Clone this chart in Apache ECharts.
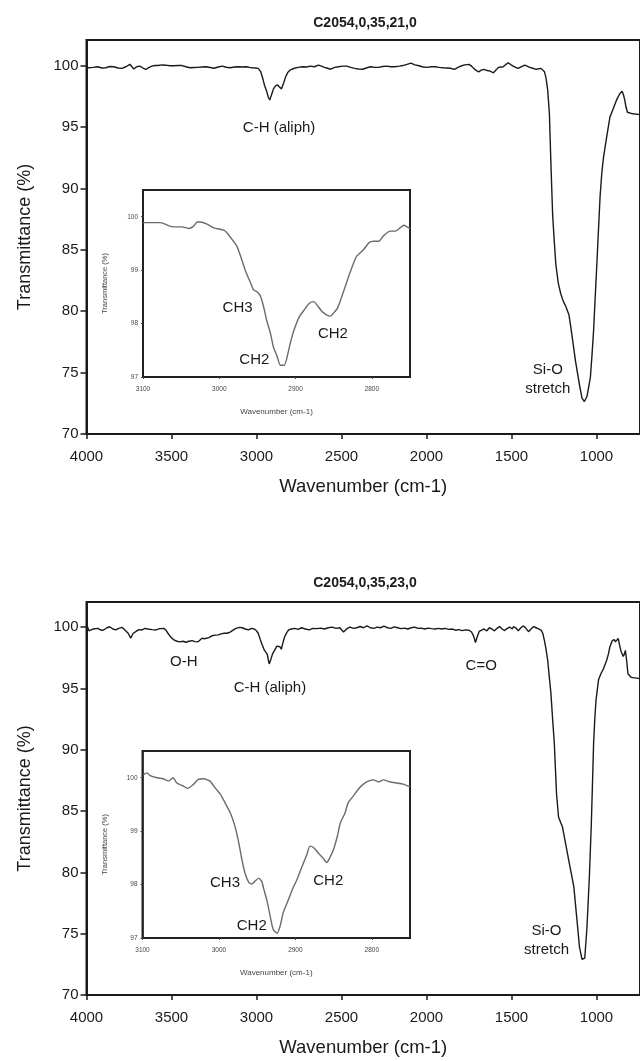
<!DOCTYPE html>
<html><head><meta charset="utf-8">
<script src="https://cdn.jsdelivr.net/npm/echarts@6/dist/echarts.min.js"></script>
<style>html,body{margin:0;padding:0;background:#fff}#c{width:640px;height:1061px}</style>
</head><body><div id="c"></div>
<script>
const titles = ['C2054,0,35,21,0', 'C2054,0,35,23,0'];
const xAxisTitle = 'Wavenumber (cm-1)';
const yAxisTitle = 'Transmittance (%)';
const xTicks = [4000, 3500, 3000, 2500, 2000, 1500, 1000];
const yTicks = [70, 75, 80, 85, 90, 95, 100];
const insetXTicks = [3100, 3000, 2900, 2800];
const insetYTicks = [97, 98, 99, 100];

// Spectrum 1 (main), [wavenumber, transmittance]
const spectrum1 = [
[4000,99.8],[3993,99.77],[3962,99.85],[3934,99.9],[3910,99.8],[3887,99.82],[3862,99.92],[3840,99.9],[3815,99.8],[3792,99.77],[3768,99.9],[3745,100.1],[3722,99.72],[3705,99.9],[3686,99.95],[3668,99.8],[3651,99.68],[3632,99.85],[3615,99.95],[3598,100.0],[3580,100.0],[3555,100.05],[3533,100.03],[3510,99.98],[3486,99.98],[3460,100.0],[3438,100.0],[3415,99.9],[3391,99.82],[3368,99.84],[3344,99.85],[3320,99.88],[3297,99.9],[3272,99.84],[3249,99.78],[3225,99.88],[3202,99.95],[3178,99.86],[3155,99.82],[3130,99.88],[3108,99.9],[3085,99.88],[3060,99.9],[3040,99.85],[3025,99.82],[3005,99.8],[2990,99.77],
[2975,99.5],[2962,98.9],[2953,98.4],[2940,97.9],[2930,97.4],[2922,97.2],[2912,97.6],[2900,98.1],[2888,98.35],[2876,98.42],[2865,98.25],[2853,98.1],[2840,98.6],[2828,99.1],[2815,99.45],[2800,99.65],[2777,99.78],
[2755,99.85],[2730,99.9],[2705,99.88],[2682,99.95],[2660,99.9],[2635,100.03],[2618,99.95],[2600,99.85],[2582,99.78],[2564,99.7],[2540,99.85],[2517,99.9],[2494,99.95],[2470,99.95],[2445,99.85],[2423,99.77],[2400,99.72],[2375,99.7],[2350,99.82],[2328,99.9],[2305,99.85],[2281,99.85],[2258,99.92],[2233,99.95],[2210,99.9],[2186,99.9],[2160,99.95],[2139,100.0],[2115,100.1],[2092,100.2],[2068,100.05],[2044,99.98],[2020,99.88],[1997,99.85],[1972,99.9],[1950,99.9],[1925,99.85],[1903,99.82],[1892,99.85],[1860,99.78],[1835,99.69],[1815,99.85],[1798,99.96],[1775,100.05],[1750,100.1],[1735,99.95],[1722,99.77],[1708,99.6],[1693,99.49],[1678,99.62],[1664,99.69],[1650,99.62],[1635,99.58],[1620,99.5],[1606,99.41],[1590,99.65],[1577,99.85],[1562,99.88],[1548,99.9],[1532,100.1],[1519,100.23],[1505,100.08],[1490,99.96],[1475,99.85],[1461,99.77],[1440,99.92],[1422,100.04],[1408,99.95],[1393,99.85],[1375,99.78],[1355,99.69],[1340,99.74],[1326,99.77],[1315,99.65],[1306,99.49],
[1297,99.0],[1287,98.0],[1277,96.1],[1268,92.0],[1258,87.9],[1248,85.6],[1239,83.8],[1225,82.3],[1210,81.4],[1195,80.8],[1181,80.4],[1162,79.7],[1152,78.8],[1142,77.8],[1123,75.9],[1100,74.0],[1085,72.9],[1071,72.65],[1056,73.05],[1036,74.6],[1027,76.3],[1017,78.4],[1008,81.0],[998,83.8],[988,86.7],[979,89.3],[969,91.2],[959,92.5],[940,94.2],[921,95.8],[901,96.5],[882,97.2],[863,97.7],[849,97.9],[841,97.6],[834,97.2],[826,96.6],[818,96.2],[795,96.1],[744,96.0]
];

// Inset 1 (C-H region)
const inset1 = [
[3100,99.89],[3077,99.89],[3064,99.82],[3055,99.81],[3049,99.81],[3040,99.78],[3034,99.82],[3029,99.9],[3025,99.9],[3016,99.86],[3007,99.79],[2994,99.75],[2990,99.7],[2983,99.57],[2977,99.45],[2972,99.26],[2966,99.0],[2959,98.76],[2955,98.63],[2950,98.59],[2946,98.51],[2942,98.32],[2938,98.07],[2933,97.82],[2929,97.56],[2924,97.38],[2920,97.22],[2915,97.22],[2911,97.38],[2907,97.63],[2902,97.88],[2895,98.13],[2889,98.25],[2882,98.38],[2876,98.41],[2872,98.35],[2865,98.22],[2859,98.16],[2854,98.14],[2850,98.2],[2845,98.29],[2841,98.44],[2835,98.69],[2828,98.98],[2820,99.26],[2811,99.38],[2804,99.51],[2798,99.54],[2791,99.54],[2785,99.64],[2776,99.73],[2769,99.73],[2763,99.79],[2758,99.84],[2754,99.81],[2750,99.78]
];

// Spectrum 2 (main)
const spectrum2 = [
[4000,100.25],[3992,99.95],[3985,99.7],[3960,99.85],[3934,99.9],[3915,99.75],[3899,99.77],[3880,99.95],[3864,100.03],[3845,99.85],[3828,99.77],[3810,99.9],[3792,99.98],[3780,99.85],[3769,99.77],[3755,99.5],[3740,99.1],[3725,99.5],[3710,99.64],[3692,99.8],[3674,99.77],[3655,99.9],[3639,99.85],[3615,99.8],[3592,99.77],[3568,99.88],[3545,99.9],[3532,99.75],[3521,99.5],[3505,99.2],[3486,98.96],[3468,98.85],[3450,98.8],[3432,98.85],[3415,98.77],[3398,98.85],[3379,98.9],[3362,98.82],[3344,98.8],[3332,98.95],[3320,99.1],[3308,99.05],[3297,98.96],[3280,99.15],[3261,99.3],[3244,99.35],[3226,99.37],[3208,99.45],[3190,99.5],[3172,99.5],[3155,99.6],[3138,99.75],[3120,99.9],[3100,99.98],[3084,99.95],[3066,99.85],[3048,99.77],[3030,99.9],[3013,99.85],[3000,99.7],[2990,99.5],
[2978,99.0],[2966,98.55],[2953,98.1],[2945,97.95],[2937,97.8],[2930,97.3],[2925,97.0],[2915,97.4],[2906,97.8],[2890,98.2],[2880,98.45],[2871,98.6],[2862,98.4],[2854,98.2],[2845,98.7],[2835,99.2],[2822,99.55],[2811,99.77],[2795,99.85],[2776,99.9],
[2755,99.82],[2735,99.95],[2712,99.85],[2690,99.78],[2668,99.9],[2645,99.88],[2622,99.92],[2600,99.85],[2578,99.95],[2555,100.0],[2533,99.9],[2510,99.95],[2488,99.6],[2470,99.85],[2450,100.0],[2430,99.9],[2410,99.95],[2390,100.05],[2370,99.95],[2350,100.1],[2330,99.95],[2310,99.9],[2290,100.0],[2270,99.95],[2250,100.08],[2230,99.95],[2210,99.9],[2190,100.02],[2170,99.95],[2150,99.88],[2130,99.92],[2110,99.85],[2090,99.95],[2070,100.0],[2050,99.9],[2030,99.92],[2010,99.85],[1990,99.92],[1970,99.88],[1950,99.85],[1930,99.9],[1910,99.85],[1890,99.9],[1870,99.82],[1850,99.85],[1830,99.75],[1810,99.8],[1790,99.72],[1770,99.78],[1750,99.75],[1735,99.6],[1722,99.25],[1712,98.75],[1702,99.2],[1690,99.65],[1675,99.75],[1662,99.85],[1645,99.7],[1630,99.95],[1615,99.85],[1600,99.7],[1585,99.9],[1570,100.05],[1555,99.85],[1540,99.72],[1525,99.9],[1510,100.0],[1495,99.85],[1488,100.05],[1475,99.95],[1460,99.7],[1445,99.95],[1430,100.1],[1415,99.9],[1400,99.63],[1385,99.85],[1370,100.05],[1355,99.95],[1340,99.85],[1326,99.75],
[1316,99.5],[1306,98.9],[1297,98.2],[1287,97.3],[1278,96.0],[1268,94.6],[1258,92.5],[1248,90.5],[1241,88.3],[1235,86.4],[1223,84.5],[1200,83.7],[1181,82.3],[1162,80.9],[1148,79.9],[1133,78.8],[1114,76.0],[1100,73.9],[1085,72.9],[1069,73.0],[1056,75.5],[1042,79.6],[1031,83.7],[1024,87.0],[1017,90.5],[1010,92.5],[1003,94.0],[988,95.7],[974,96.2],[959,96.6],[940,97.3],[930,97.8],[921,98.4],[907,98.9],[895,98.99],[889,98.8],[882,98.7],[872,99.07],[865,98.6],[857,98.1],[843,97.6],[836,97.8],[830,98.1],[822,97.2],[815,96.2],[795,95.9],[744,95.8]
];

// Inset 2 (C-H region)
const inset2 = [
[3099,100.06],[3094,100.09],[3090,100.04],[3081,100.0],[3073,99.98],[3066,99.94],[3060,100.0],[3055,99.9],[3046,99.84],[3041,99.8],[3033,99.88],[3027,99.97],[3020,99.98],[3012,99.94],[3005,99.81],[2998,99.69],[2992,99.53],[2985,99.34],[2979,99.09],[2974,98.78],[2970,98.47],[2966,98.22],[2961,98.04],[2957,98.01],[2953,98.06],[2948,98.12],[2944,98.06],[2941,97.9],[2937,97.69],[2933,97.41],[2929,97.16],[2924,97.09],[2920,97.22],[2916,97.47],[2909,97.72],[2903,97.94],[2898,98.09],[2892,98.31],[2885,98.56],[2881,98.72],[2876,98.69],[2870,98.59],[2864,98.5],[2859,98.41],[2855,98.5],[2850,98.66],[2845,98.91],[2841,99.16],[2835,99.34],[2831,99.53],[2824,99.66],[2818,99.78],[2811,99.88],[2804,99.94],[2798,99.96],[2791,99.92],[2785,99.96],[2776,99.92],[2767,99.9],[2759,99.88],[2750,99.83]
];

// Annotations [text, wavenumber, transmittance]
const notes1 = [['C-H (aliph)', 2867, 94.94], ['Si-O\nstretch', 1286, 74.44]];
const insetNotes1 = [['CH3', 2976, 98.29], ['CH2', 2954, 97.32], ['CH2', 2851, 97.80]];
const notes2 = [['O-H', 3428, 97.19], ['C-H (aliph)', 2921, 95.02], ['C=O', 1678, 96.84], ['Si-O\nstretch', 1294, 74.44]];
const insetNotes2 = [['CH3', 2992, 98.03], ['CH2', 2957, 97.22], ['CH2', 2857, 98.07]];

const FONT = 'Liberation Sans, Arial, sans-serif';
const INK = '#1a1a1a';
const plain = v => String(v);

function notesToMark(notes, size) {
  return {
    symbol: 'circle', symbolSize: 0, silent: true, animation: false,
    label: { show: true, position: 'inside', formatter: '{b}', fontSize: size, color: INK, fontFamily: FONT, lineHeight: 19, align: 'center' },
    data: notes.map(n => ({ name: n[0], coord: [n[1], n[2]] }))
  };
}

function mainX(gi) {
  return {
    type: 'value', gridIndex: gi, inverse: true, min: 744, max: 4000,
    axisLine: { show: true, onZero: false, lineStyle: { color: INK, width: 2 } },
    axisTick: { show: true, length: 5, customValues: xTicks, lineStyle: { color: INK, width: 1.5 } },
    axisLabel: { customValues: xTicks, formatter: plain, fontSize: 15, color: INK, margin: 15, fontFamily: FONT },
    splitLine: { show: false },
    name: xAxisTitle, nameLocation: 'middle', nameGap: 43,
    nameTextStyle: { fontSize: 18.5, color: INK, fontFamily: FONT }
  };
}
function mainY(gi, max) {
  return {
    type: 'value', gridIndex: gi, min: 70, max: max,
    axisLine: { show: true, onZero: false, lineStyle: { color: INK, width: 2 } },
    axisTick: { show: true, length: 6, customValues: yTicks, lineStyle: { color: INK, width: 1.5 } },
    axisLabel: { customValues: yTicks, formatter: plain, fontSize: 15, color: INK, margin: 8, fontFamily: FONT },
    splitLine: { show: false },
    name: yAxisTitle, nameLocation: 'middle', nameGap: 52, nameRotate: 90,
    nameTextStyle: { fontSize: 18, color: INK, fontFamily: FONT }
  };
}
function insetX(gi) {
  return {
    type: 'value', gridIndex: gi, inverse: true, min: 2750, max: 3100,
    axisLine: { show: true, onZero: false, lineStyle: { color: '#222', width: 1.5 } },
    axisTick: { show: true, length: 2, customValues: insetXTicks, lineStyle: { color: '#444', width: 1 } },
    axisLabel: { customValues: insetXTicks, formatter: plain, fontSize: 6.5, color: '#444', margin: 9, fontFamily: FONT },
    splitLine: { show: false },
    name: xAxisTitle, nameLocation: 'middle', nameGap: 31,
    nameTextStyle: { fontSize: 8, color: '#444', fontFamily: FONT }
  };
}
function insetY(gi) {
  return {
    type: 'value', gridIndex: gi, min: 97, max: 100.5,
    axisLine: { show: true, onZero: false, lineStyle: { color: '#222', width: 1.5 } },
    axisTick: { show: true, length: 2, customValues: insetYTicks, lineStyle: { color: '#444', width: 1 } },
    axisLabel: { customValues: insetYTicks, formatter: plain, fontSize: 6.5, color: '#444', margin: 5, fontFamily: FONT },
    splitLine: { show: false },
    name: yAxisTitle, nameLocation: 'middle', nameGap: 34, nameRotate: 90,
    nameTextStyle: { fontSize: 7.5, color: '#444', fontFamily: FONT }
  };
}

const chart = echarts.init(document.getElementById('c'), null, { renderer: 'canvas' });
chart.setOption({
  animation: false,
  backgroundColor: '#ffffff',
  title: [
    { text: titles[0], left: 365, top: 16, textAlign: 'center', padding: 0,
      textStyle: { fontSize: 14, fontWeight: 'bold', color: INK, fontFamily: FONT } },
    { text: titles[1], left: 365, top: 576, textAlign: 'center', padding: 0,
      textStyle: { fontSize: 14, fontWeight: 'bold', color: INK, fontFamily: FONT } }
  ],
  grid: [
    { left: 86.5, top: 40, right: -8, height: 394, show: true, borderColor: INK, borderWidth: 2, backgroundColor: 'transparent' },
    { left: 143, top: 190, width: 267, height: 187, show: true, borderColor: '#222', borderWidth: 2, backgroundColor: '#fff' },
    { left: 86.5, top: 602, right: -8, height: 393, show: true, borderColor: INK, borderWidth: 2, backgroundColor: 'transparent' },
    { left: 142.5, top: 751, width: 267.5, height: 187, show: true, borderColor: '#222', borderWidth: 2, backgroundColor: '#fff' }
  ],
  xAxis: [mainX(0), insetX(1), mainX(2), insetX(3)],
  yAxis: [mainY(0, 102.08), insetY(1), mainY(2, 102.05), insetY(3)],
  series: [
    { type: 'line', xAxisIndex: 0, yAxisIndex: 0, data: spectrum1, showSymbol: false, lineStyle: { color: INK, width: 1.4 }, markPoint: notesToMark(notes1, 15) },
    { type: 'line', xAxisIndex: 1, yAxisIndex: 1, data: inset1, showSymbol: false, smooth: 0.2, lineStyle: { color: '#6a6a6a', width: 1.4 }, markPoint: notesToMark(insetNotes1, 15) },
    { type: 'line', xAxisIndex: 2, yAxisIndex: 2, data: spectrum2, showSymbol: false, lineStyle: { color: INK, width: 1.4 }, markPoint: notesToMark(notes2, 15) },
    { type: 'line', xAxisIndex: 3, yAxisIndex: 3, data: inset2, showSymbol: false, smooth: 0.2, lineStyle: { color: '#6a6a6a', width: 1.4 }, markPoint: notesToMark(insetNotes2, 15) }
  ]
});
</script>
</body></html>
